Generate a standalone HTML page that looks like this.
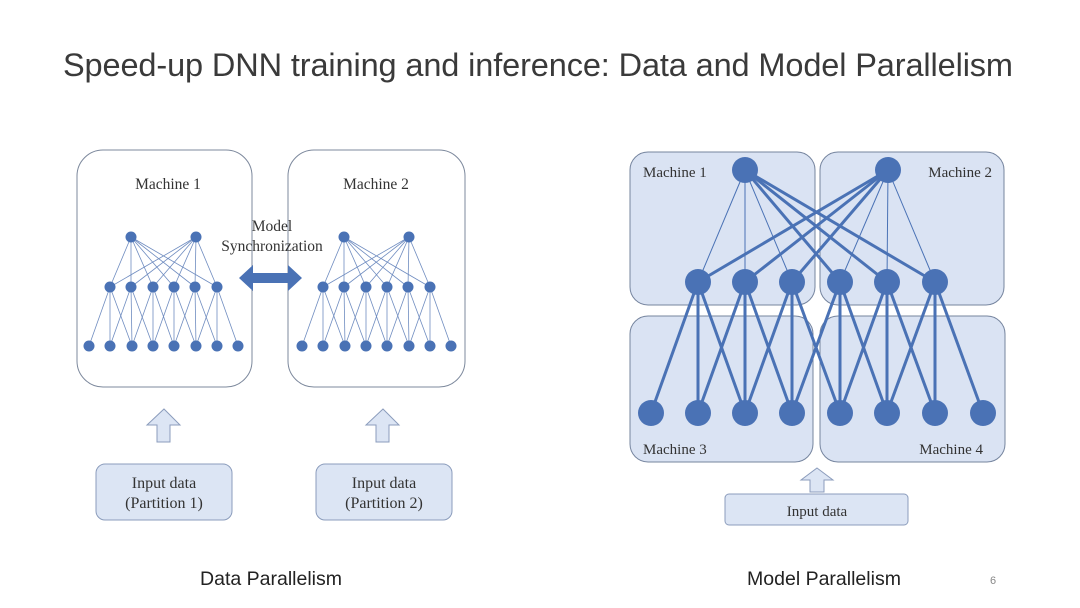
<!DOCTYPE html>
<html><head><meta charset="utf-8"><style>
html,body{margin:0;padding:0;background:#fff;}
svg{display:block;}
</style></head><body>
<svg id="s" width="1080" height="608" viewBox="0 0 1080 608" xmlns="http://www.w3.org/2000/svg">
<text x="538" y="76" text-anchor="middle" font-family="Liberation Sans, sans-serif" font-size="32.5" fill="#3a3a3a" textLength="950">Speed-up DNN training and inference: Data and Model Parallelism</text>
<!-- left boxes -->
<rect x="77" y="150" width="175" height="237" rx="26" fill="#fff" stroke="#7c889c" stroke-width="1"/>
<rect x="288" y="150" width="177" height="237" rx="26" fill="#fff" stroke="#7c889c" stroke-width="1"/>
<g font-family="Liberation Serif, serif" font-size="15.5" fill="#333" text-anchor="middle">
<text x="168" y="189">Machine 1</text>
<text x="376" y="189">Machine 2</text>
<text x="272" y="231">Model</text>
<text x="272" y="251">Synchronization</text>
</g>
<g id="left"></g>
<polygon points="239,278 253,265 253,273 288,273 288,265 302,278 288,291 288,283 253,283 253,291" fill="#4a72b5"/>
<!-- up arrows -->
<polygon points="164,409 180,425 170,425 170,442 157,442 157,425 147,425" fill="#dce5f4" stroke="#8b9cbc"/>
<polygon points="383,409 399,425 389,425 389,442 376,442 376,425 366,425" fill="#dce5f4" stroke="#8b9cbc"/>
<rect x="96" y="464" width="136" height="56" rx="9" fill="#dce5f4" stroke="#8b9cbc"/>
<rect x="316" y="464" width="136" height="56" rx="9" fill="#dce5f4" stroke="#8b9cbc"/>
<g font-family="Liberation Serif, serif" font-size="16" fill="#333" text-anchor="middle">
<text x="164" y="488">Input data</text><text x="164" y="508">(Partition 1)</text>
<text x="384" y="488">Input data</text><text x="384" y="508">(Partition 2)</text>
</g>
<!-- right -->
<g fill="#dae3f3" stroke="#75849e" stroke-width="1">
<rect x="630" y="152" width="185" height="153" rx="18"/>
<rect x="820" y="152" width="184" height="153" rx="18"/>
<rect x="630" y="316" width="183" height="146" rx="18"/>
<rect x="820" y="316" width="185" height="146" rx="18"/>
</g>
<g font-family="Liberation Serif, serif" font-size="15" fill="#333">
<text x="643" y="177">Machine 1</text>
<text x="992" y="177" text-anchor="end">Machine 2</text>
<text x="643" y="454">Machine 3</text>
<text x="983" y="454" text-anchor="end">Machine 4</text>
</g>
<g id="right"></g>
<polygon points="817,468 833,480 824,480 824,492 810,492 810,480 801,480" fill="#dce5f4" stroke="#8b9cbc"/>
<rect x="725" y="494" width="183" height="31" rx="4" fill="#dce5f4" stroke="#8b9cbc"/>
<text x="817" y="516" text-anchor="middle" font-family="Liberation Serif, serif" font-size="15" fill="#333">Input data</text>
<g font-family="Liberation Sans, sans-serif" font-size="19.5" fill="#222" text-anchor="middle">
<text x="271" y="585">Data Parallelism</text>
<text x="824" y="585">Model Parallelism</text>
</g>
<text x="993" y="584" text-anchor="middle" font-family="Liberation Sans, sans-serif" font-size="11" fill="#888">6</text>
</svg>
<script>
(function(){
var NS="http://www.w3.org/2000/svg";
function el(g,t,a){var e=document.createElementNS(NS,t);for(var k in a)e.setAttribute(k,a[k]);g.appendChild(e);}
var L=document.getElementById("left");
[0,213].forEach(function(o){
 var tp=[131+o,196+o],mid=[110,131,153,174,195,217].map(function(x){return x+o}),bot=[89,110,132,153,174,196,217,238].map(function(x){return x+o});
 tp.forEach(function(t){mid.forEach(function(m){el(L,"line",{x1:t,y1:237,x2:m,y2:287,stroke:"#6f8cc0","stroke-width":0.8});});});
 mid.forEach(function(m,i){for(var j=i;j<=i+2;j++)el(L,"line",{x1:m,y1:287,x2:bot[j],y2:346,stroke:"#6f8cc0","stroke-width":0.8});});
 tp.forEach(function(t){el(L,"circle",{cx:t,cy:237,r:5.5,fill:"#4a72b5"});});
 mid.forEach(function(t){el(L,"circle",{cx:t,cy:287,r:5.5,fill:"#4a72b5"});});
 bot.forEach(function(t){el(L,"circle",{cx:t,cy:346,r:5.5,fill:"#4a72b5"});});
});
var R=document.getElementById("right");
var tp=[745,888],mid=[698,745,792,840,887,935],bot=[651,698,745,792,840,887,935,983];
mid.forEach(function(m,i){
 el(R,"line",{x1:745,y1:170,x2:m,y2:282,stroke:"#4a72b5","stroke-width":i<3?1:3});
 el(R,"line",{x1:888,y1:170,x2:m,y2:282,stroke:"#4a72b5","stroke-width":i<3?3:1});
 for(var j=i;j<=i+2;j++)el(R,"line",{x1:m,y1:282,x2:bot[j],y2:413,stroke:"#4a72b5","stroke-width":3});
});
tp.forEach(function(t){el(R,"circle",{cx:t,cy:170,r:13,fill:"#4a72b5"});});
mid.forEach(function(t){el(R,"circle",{cx:t,cy:282,r:13,fill:"#4a72b5"});});
bot.forEach(function(t){el(R,"circle",{cx:t,cy:413,r:13,fill:"#4a72b5"});});
})();
</script>
</body></html>
